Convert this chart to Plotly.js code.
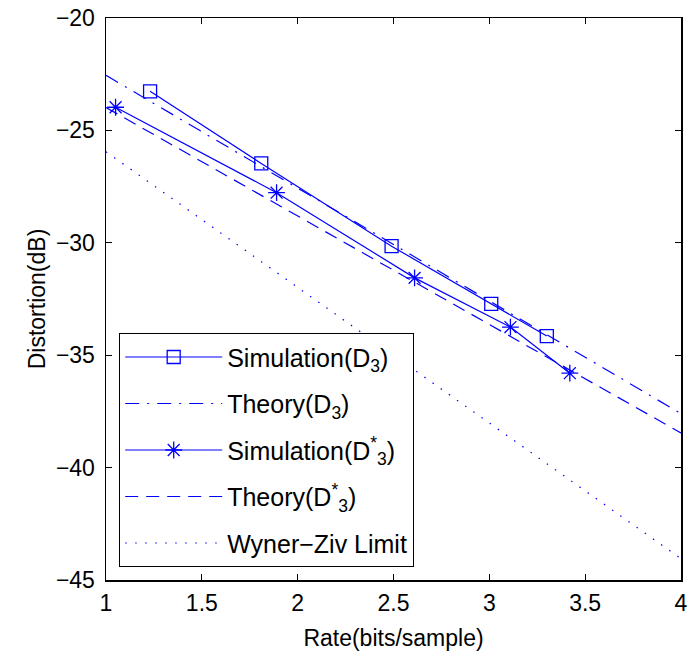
<!DOCTYPE html>
<html>
<head>
<meta charset="utf-8">
<script src="https://cdn.plot.ly/plotly-3.0.1.min.js"></script>
<style>html,body{margin:0;padding:0;background:#fff}#chart{width:693px;height:655px}</style>
</head>
<body>
<div id="chart"></div>
<script>
// Simulation (D3) - squares
const simD3Rate = [1.23, 1.81, 2.49, 3.01, 3.30];
const simD3Dist = [-23.26, -26.47, -30.15, -32.72, -34.15];
// Theory (D3) - dash-dot
const thD3Rate = [1, 4];
const thD3Dist = [-22.55, -37.6];
// Simulation (D3*) - stars
const simD3sRate = [1.05, 1.89, 2.61, 3.11, 3.42];
const simD3sDist = [-23.97, -27.77, -31.56, -33.75, -35.8];
// Theory (D3*) - dashed
const thD3sRate = [1, 4];
const thD3sDist = [-23.98, -38.46];
// Wyner-Ziv limit - dotted
const wzRate = [1, 4];
const wzDist = [-25.95, -44.05];

const xTicks = [1, 1.5, 2, 2.5, 3, 3.5, 4];
const yTicks = [-45, -40, -35, -30, -25, -20];

const blue = '#0000ff';
const font = 'Liberation Sans, Arial, Helvetica, sans-serif';

const traces = [
  {x: simD3Rate, y: simD3Dist, name: 'Simulation(D<sub>3</sub>)', mode: 'lines+markers', legendgroup: 'a',
   line: {color: blue, width: 1.2}, marker: {symbol: 'square-open', size: 13, color: blue, line: {width: 1.3, color: blue}}},
  {x: thD3Rate, y: thD3Dist, name: 'Theory(D<sub>3</sub>)', mode: 'lines', legendgroup: 'b',
   line: {color: blue, width: 1.2, dash: '14px,8px,2px,8px'}},
  {x: simD3sRate, y: simD3sDist, name: 'Simulation(D<sup>*</sup><sub>3</sub>)', mode: 'lines+markers', legendgroup: 'c',
   line: {color: blue, width: 1.2}, marker: {symbol: 'asterisk-open', size: 14, color: blue, line: {width: 1.3, color: blue}}},
  {x: thD3sRate, y: thD3sDist, name: 'Theory(D<sup>*</sup><sub>3</sub>)', mode: 'lines', legendgroup: 'd',
   line: {color: blue, width: 1.2, dash: '13px,8px'}},
  {x: wzRate, y: wzDist, name: 'Wyner\u2212Ziv Limit', mode: 'lines', legendgroup: 'e',
   line: {color: blue, width: 1.2, dash: '1.5px,8.5px'}}
];

const axisCommon = {
  showgrid: false, zeroline: false, showline: true, linecolor: '#000', linewidth: 1.5,
  mirror: 'allticks', ticks: 'inside', ticklen: 6, tickwidth: 1, tickcolor: '#000',
  tickfont: {family: font, size: 23, color: '#000'}
};

const layout = {
  width: 693, height: 655,
  margin: {l: 106, r: 12, t: 18, b: 75},
  paper_bgcolor: '#fff', plot_bgcolor: '#fff',
  font: {family: font, color: '#000'},
  xaxis: Object.assign({}, axisCommon, {range: [1, 4], tickvals: xTicks, ticktext: xTicks.map(String),
    ticklabelstandoff: 2,
    title: {text: 'Rate(bits/sample)', font: {family: font, size: 23, color: '#000'}, standoff: 15}}),
  yaxis: Object.assign({}, axisCommon, {range: [-45, -20], tickvals: yTicks,
    ticktext: yTicks.map(v => '\u2212' + Math.abs(v)), ticklabelstandoff: 5,
    title: {text: 'Distortion(dB)', font: {family: font, size: 23, color: '#000'}, standoff: 4}}),
  showlegend: true,
  legend: {x: 0.0226, y: 0.023, xanchor: 'left', yanchor: 'bottom', bgcolor: '#fff',
    bordercolor: '#000', borderwidth: 1.2, font: {family: font, size: 25, color: '#000'},
    tracegroupgap: 11, itemwidth: 97}
};

Plotly.newPlot('chart', traces, layout, {displayModeBar: false, staticPlot: true});
</script>
</body>
</html>
